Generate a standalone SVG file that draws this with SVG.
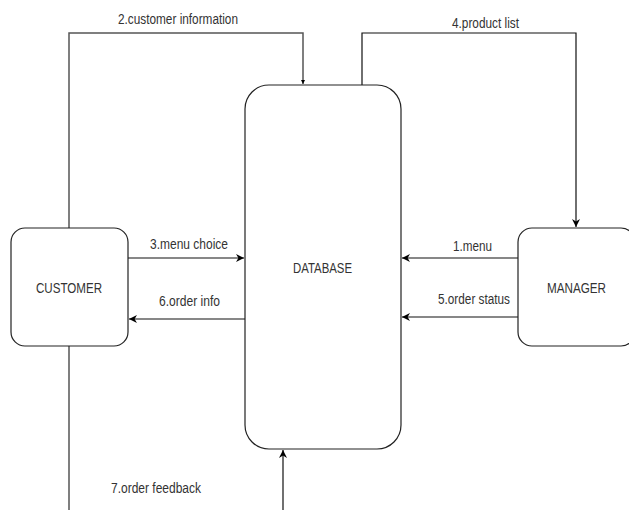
<svg xmlns="http://www.w3.org/2000/svg" width="629" height="510" viewBox="0 0 629 510">
<style>
.box{fill:#fff;stroke:#222;stroke-width:1.2}
.lbl{font-family:"Liberation Sans",Arial,sans-serif;font-size:14px;fill:#333}
.ln{fill:none;stroke:#555;stroke-width:1.5}
.lnb{fill:none;stroke:#111;stroke-width:1.2}
</style>
<defs>
<marker id="arr" viewBox="0 0 10 10" refX="10" refY="5" markerWidth="8" markerHeight="8" markerUnits="userSpaceOnUse" orient="auto">
<path d="M0,0 L10,5 L0,10 L3,5 z" fill="#000"/>
</marker>
<marker id="arrs" viewBox="0 0 10 10" refX="10" refY="5" markerWidth="4" markerHeight="4" markerUnits="userSpaceOnUse" orient="auto">
<path d="M0,0 L10,5 L0,10 z" fill="#000"/>
</marker>
</defs>
<g id="connectors">
<path class="ln" d="M69,228 V33 H303 V84" marker-end="url(#arrs)"/>
<path class="lnb" d="M362,85 V33 H576 V227" marker-end="url(#arr)"/>
<path class="lnb" d="M128,258 H244" marker-end="url(#arr)"/>
<path class="lnb" d="M245,319 H129" marker-end="url(#arr)"/>
<path class="lnb" d="M518,258 H402" marker-end="url(#arr)"/>
<path class="lnb" d="M518,317 H402" marker-end="url(#arr)"/>
<path class="ln" d="M69,346 V510"/>
<path class="lnb" d="M283,510 V450" marker-end="url(#arr)"/>
<text class="lbl" x="118" y="24" textLength="120" lengthAdjust="spacingAndGlyphs">2.customer information</text>
<text class="lbl" x="452" y="28" textLength="67" lengthAdjust="spacingAndGlyphs">4.product list</text>
<text class="lbl" x="150" y="249" textLength="78" lengthAdjust="spacingAndGlyphs">3.menu choice</text>
<text class="lbl" x="159" y="306" textLength="61" lengthAdjust="spacingAndGlyphs">6.order info</text>
<text class="lbl" x="453" y="251" textLength="39" lengthAdjust="spacingAndGlyphs">1.menu</text>
<text class="lbl" x="438" y="304" textLength="72" lengthAdjust="spacingAndGlyphs">5.order status</text>
<text class="lbl" x="111" y="493" textLength="90" lengthAdjust="spacingAndGlyphs">7.order feedback</text>
</g>
<g id="database">
<rect class="box" x="245" y="85" width="156" height="364" rx="24" ry="24"/>
<text class="lbl" x="293" y="273" textLength="59" lengthAdjust="spacingAndGlyphs">DATABASE</text>
</g>
<g id="customer">
<rect class="box" x="11" y="228" width="117" height="118" rx="14" ry="14"/>
<text class="lbl" x="36" y="293" textLength="66" lengthAdjust="spacingAndGlyphs">CUSTOMER</text>
</g>
<g id="manager">
<rect class="box" x="518" y="228" width="117" height="118" rx="14" ry="14"/>
<text class="lbl" x="547" y="293" textLength="59" lengthAdjust="spacingAndGlyphs">MANAGER</text>
</g>
</svg>
